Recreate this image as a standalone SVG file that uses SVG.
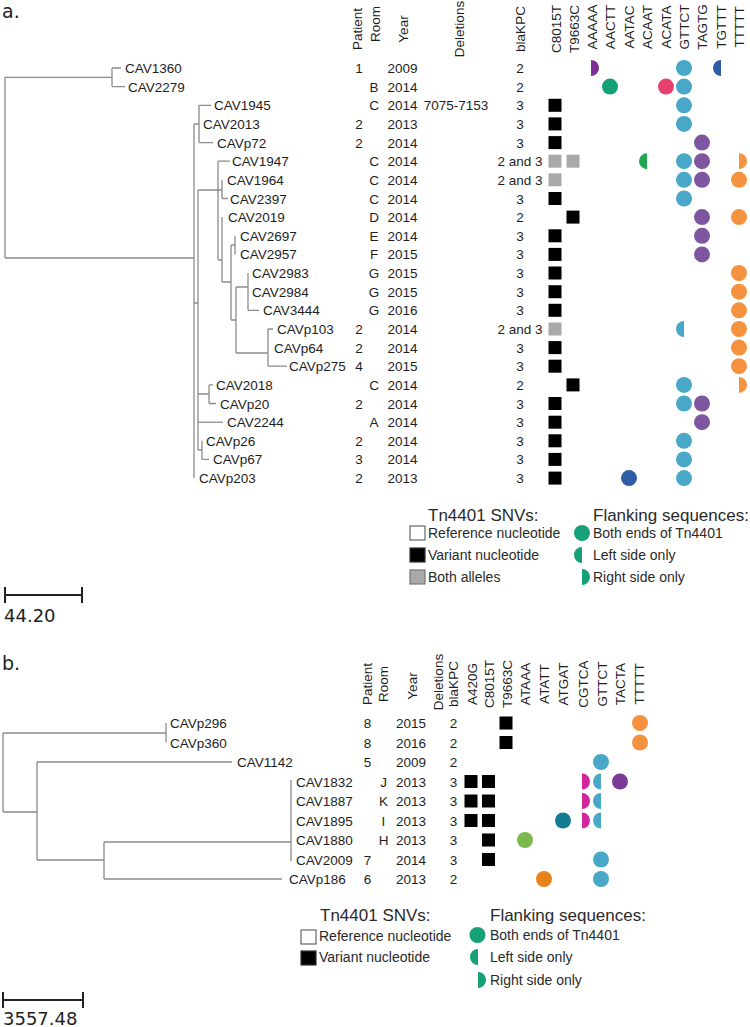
<svg xmlns="http://www.w3.org/2000/svg" width="750" height="1027" viewBox="0 0 750 1027">
<style>
text{font-family:"Liberation Sans",Arial,sans-serif;font-size:13.5px;fill:#1e1e1e}
.m{text-anchor:middle}
.hd{text-anchor:middle}
.tree{fill:none;stroke:#8c8c8c;stroke-width:1.3}
.lg{font-size:14px;fill:#2a2a2a}
.lh{font-size:17px;fill:#2a2a2a}
.sc{font-family:"DejaVu Sans",sans-serif;font-size:18px;fill:#222}
.pl{font-family:"DejaVu Sans",sans-serif;font-size:19px;fill:#222}
.bar{fill:none;stroke:#222;stroke-width:2}
.bk{fill:#000}
.gy{fill:#a9a9a9}
.gt{fill:#49a8c7}
.tg{fill:#7d569f}
.tt{fill:#f5923f}
.pu{fill:#7b2f95}
.bl{fill:#2e5da6}
.gr{fill:#15a077}
.pk{fill:#e8416e}
.lg2{fill:#20a84f}
.mg{fill:#d4269c}
.tc{fill:#7a3a96}
.te{fill:#117d8e}
.lgn{fill:#7cb850}
.or{fill:#e8821b}
</style>
<defs>
<rect id="sq" x="-6.5" y="-6.5" width="13" height="13"/>
<circle id="fc" r="8"/>
<path id="lh" d="M0,-8 A8,8 0 0 0 0,8 Z"/>
<path id="rh" d="M0,-8 A8,8 0 0 1 0,8 Z"/>
</defs>

<text class="pl" x="2" y="18">a.</text>

<g id="headers-a">
<text class="hd" transform="translate(362,29) rotate(-90)">Patient</text>
<text class="hd" transform="translate(380,24) rotate(-90)">Room</text>
<text class="hd" transform="translate(408,29) rotate(-90)">Year</text>
<text class="hd" transform="translate(464,29) rotate(-90)">Deletions</text>
<text class="hd" transform="translate(525,29) rotate(-90)">blaKPC</text>
<text class="hd" transform="translate(561,29) rotate(-90)">C8015T</text>
<text class="hd" transform="translate(579,29) rotate(-90)">T9663C</text>
<text class="hd" transform="translate(597,27) rotate(-90)">AAAAA</text>
<text class="hd" transform="translate(615,27) rotate(-90)">AACTT</text>
<text class="hd" transform="translate(634,27) rotate(-90)">AATAC</text>
<text class="hd" transform="translate(652,27) rotate(-90)">ACAAT</text>
<text class="hd" transform="translate(671,27) rotate(-90)">ACATA</text>
<text class="hd" transform="translate(689,27) rotate(-90)">GTTCT</text>
<text class="hd" transform="translate(707,27) rotate(-90)">TAGTG</text>
<text class="hd" transform="translate(726,27) rotate(-90)">TGTTT</text>
<text class="hd" transform="translate(744,27) rotate(-90)">TTTTT</text>
</g>

<g id="tree-a" class="tree">
<path d="M5,77.3V258M5,77.3H112M5,258H194"/>
<path d="M112,68V86.6M112,68H121M112,86.6H125"/>
<path d="M194,124V478.1M194,124H199M199,105.3V142.6M199,105.3H211M199,142.6H213"/>
<path d="M198,190V450M194,303H198"/>
<path d="M218,161.2V260M218,161.2H230M198,190H222M222,179.8V198.5M222,198.5H228"/>
<path d="M218,260H222M222,217.1V282M222,282H231M231,245V320M231,245H235M235,235.8V254.4M231,320H236"/>
<path d="M236,287V353M236,287H248M248,273V310.3M248,310.3H259"/>
<path d="M236,353H268M268,329V366.2M268,329H273M268,366.2H287"/>
<path d="M198,394H209M209,384.9V403.5M209,384.9H213M209,403.5H216"/>
<path d="M198,422.2H223"/>
<path d="M198,450H202M202,440.8V459.4M202,459.4H209"/>
</g>

<g id="a-CAV1360"><text x="125" y="73">CAV1360</text><text class="m" x="359" y="73">1</text><text class="m" x="402.5" y="73">2009</text><text class="m" x="520" y="73">2</text><use href="#rh" x="591" y="68" class="pu"/><use href="#fc" x="684" y="68" class="gt"/><use href="#lh" x="721" y="68" class="bl"/></g>
<g id="a-CAV2279"><text x="128" y="91.6">CAV2279</text><text class="m" x="374" y="91.6">B</text><text class="m" x="402.5" y="91.6">2014</text><text class="m" x="520" y="91.6">2</text><use href="#fc" x="610" y="86.6" class="gr"/><use href="#fc" x="666" y="86.6" class="pk"/><use href="#fc" x="684" y="86.6" class="gt"/></g>
<g id="a-CAV1945"><text x="214" y="110.3">CAV1945</text><text class="m" x="374" y="110.3">C</text><text class="m" x="402.5" y="110.3">2014</text><text class="m" x="456" y="110.3">7075-7153</text><text class="m" x="520" y="110.3">3</text><use href="#sq" x="555" y="105.3" class="bk"/><use href="#fc" x="684" y="105.3" class="gt"/></g>
<g id="a-CAV2013"><text x="203" y="128.9">CAV2013</text><text class="m" x="359" y="128.9">2</text><text class="m" x="402.5" y="128.9">2013</text><text class="m" x="520" y="128.9">3</text><use href="#sq" x="555" y="123.9" class="bk"/><use href="#fc" x="684" y="123.9" class="gt"/></g>
<g id="a-CAVp72"><text x="217" y="147.6">CAVp72</text><text class="m" x="359" y="147.6">2</text><text class="m" x="402.5" y="147.6">2014</text><text class="m" x="520" y="147.6">3</text><use href="#sq" x="555" y="142.6" class="bk"/><use href="#fc" x="702" y="142.6" class="tg"/></g>
<g id="a-CAV1947"><text x="232" y="166.2">CAV1947</text><text class="m" x="374" y="166.2">C</text><text class="m" x="402.5" y="166.2">2014</text><text class="m" x="520" y="166.2">2 and 3</text><use href="#sq" x="555" y="161.2" class="gy"/><use href="#sq" x="573" y="161.2" class="gy"/><use href="#lh" x="647" y="161.2" class="lg2"/><use href="#fc" x="684" y="161.2" class="gt"/><use href="#fc" x="702" y="161.2" class="tg"/><use href="#rh" x="739" y="161.2" class="tt"/></g>
<g id="a-CAV1964"><text x="227" y="184.8">CAV1964</text><text class="m" x="374" y="184.8">C</text><text class="m" x="402.5" y="184.8">2014</text><text class="m" x="520" y="184.8">2 and 3</text><use href="#sq" x="555" y="179.8" class="gy"/><use href="#fc" x="684" y="179.8" class="gt"/><use href="#fc" x="702" y="179.8" class="tg"/><use href="#fc" x="739" y="179.8" class="tt"/></g>
<g id="a-CAV2397"><text x="230" y="203.5">CAV2397</text><text class="m" x="374" y="203.5">C</text><text class="m" x="402.5" y="203.5">2014</text><text class="m" x="520" y="203.5">3</text><use href="#sq" x="555" y="198.5" class="bk"/><use href="#fc" x="684" y="198.5" class="gt"/></g>
<g id="a-CAV2019"><text x="228" y="222.1">CAV2019</text><text class="m" x="374" y="222.1">D</text><text class="m" x="402.5" y="222.1">2014</text><text class="m" x="520" y="222.1">2</text><use href="#sq" x="573" y="217.1" class="bk"/><use href="#fc" x="702" y="217.1" class="tg"/><use href="#fc" x="739" y="217.1" class="tt"/></g>
<g id="a-CAV2697"><text x="240" y="240.8">CAV2697</text><text class="m" x="374" y="240.8">E</text><text class="m" x="402.5" y="240.8">2014</text><text class="m" x="520" y="240.8">3</text><use href="#sq" x="555" y="235.8" class="bk"/><use href="#fc" x="702" y="235.8" class="tg"/></g>
<g id="a-CAV2957"><text x="240" y="259.4">CAV2957</text><text class="m" x="374" y="259.4">F</text><text class="m" x="402.5" y="259.4">2015</text><text class="m" x="520" y="259.4">3</text><use href="#sq" x="555" y="254.4" class="bk"/><use href="#fc" x="702" y="254.4" class="tg"/></g>
<g id="a-CAV2983"><text x="252" y="278">CAV2983</text><text class="m" x="374" y="278">G</text><text class="m" x="402.5" y="278">2015</text><text class="m" x="520" y="278">3</text><use href="#sq" x="555" y="273" class="bk"/><use href="#fc" x="739" y="273" class="tt"/></g>
<g id="a-CAV2984"><text x="252" y="296.7">CAV2984</text><text class="m" x="374" y="296.7">G</text><text class="m" x="402.5" y="296.7">2015</text><text class="m" x="520" y="296.7">3</text><use href="#sq" x="555" y="291.7" class="bk"/><use href="#fc" x="739" y="291.7" class="tt"/></g>
<g id="a-CAV3444"><text x="263" y="315.3">CAV3444</text><text class="m" x="374" y="315.3">G</text><text class="m" x="402.5" y="315.3">2016</text><text class="m" x="520" y="315.3">3</text><use href="#sq" x="555" y="310.3" class="bk"/><use href="#fc" x="739" y="310.3" class="tt"/></g>
<g id="a-CAVp103"><text x="277" y="334">CAVp103</text><text class="m" x="359" y="334">2</text><text class="m" x="402.5" y="334">2014</text><text class="m" x="520" y="334">2 and 3</text><use href="#sq" x="555" y="329" class="gy"/><use href="#lh" x="684" y="329" class="gt"/><use href="#fc" x="739" y="329" class="tt"/></g>
<g id="a-CAVp64"><text x="274" y="352.6">CAVp64</text><text class="m" x="359" y="352.6">2</text><text class="m" x="402.5" y="352.6">2014</text><text class="m" x="520" y="352.6">3</text><use href="#sq" x="555" y="347.6" class="bk"/><use href="#fc" x="739" y="347.6" class="tt"/></g>
<g id="a-CAVp275"><text x="289" y="371.2">CAVp275</text><text class="m" x="359" y="371.2">4</text><text class="m" x="402.5" y="371.2">2015</text><text class="m" x="520" y="371.2">3</text><use href="#sq" x="555" y="366.2" class="bk"/><use href="#fc" x="739" y="366.2" class="tt"/></g>
<g id="a-CAV2018"><text x="216" y="389.9">CAV2018</text><text class="m" x="374" y="389.9">C</text><text class="m" x="402.5" y="389.9">2014</text><text class="m" x="520" y="389.9">2</text><use href="#sq" x="573" y="384.9" class="bk"/><use href="#fc" x="684" y="384.9" class="gt"/><use href="#rh" x="739" y="384.9" class="tt"/></g>
<g id="a-CAVp20"><text x="220" y="408.5">CAVp20</text><text class="m" x="359" y="408.5">2</text><text class="m" x="402.5" y="408.5">2014</text><text class="m" x="520" y="408.5">3</text><use href="#sq" x="555" y="403.5" class="bk"/><use href="#fc" x="684" y="403.5" class="gt"/><use href="#fc" x="702" y="403.5" class="tg"/></g>
<g id="a-CAV2244"><text x="227" y="427.2">CAV2244</text><text class="m" x="374" y="427.2">A</text><text class="m" x="402.5" y="427.2">2014</text><text class="m" x="520" y="427.2">3</text><use href="#sq" x="555" y="422.2" class="bk"/><use href="#fc" x="702" y="422.2" class="tg"/></g>
<g id="a-CAVp26"><text x="206" y="445.8">CAVp26</text><text class="m" x="359" y="445.8">2</text><text class="m" x="402.5" y="445.8">2014</text><text class="m" x="520" y="445.8">3</text><use href="#sq" x="555" y="440.8" class="bk"/><use href="#fc" x="684" y="440.8" class="gt"/></g>
<g id="a-CAVp67"><text x="213" y="464.4">CAVp67</text><text class="m" x="359" y="464.4">3</text><text class="m" x="402.5" y="464.4">2014</text><text class="m" x="520" y="464.4">3</text><use href="#sq" x="555" y="459.4" class="bk"/><use href="#fc" x="684" y="459.4" class="gt"/></g>
<g id="a-CAVp203"><text x="199" y="483.1">CAVp203</text><text class="m" x="359" y="483.1">2</text><text class="m" x="402.5" y="483.1">2013</text><text class="m" x="520" y="483.1">3</text><use href="#sq" x="555" y="478.1" class="bk"/><use href="#fc" x="629" y="478.1" class="bl"/><use href="#fc" x="684" y="478.1" class="gt"/></g>

<g id="legend-a">
<text class="lh" x="428" y="521">Tn4401 SNVs:</text>
<rect x="410" y="526" width="15" height="14" fill="#fff" stroke="#666" stroke-width="1.2"/>
<text class="lg" x="428" y="538">Reference nucleotide</text>
<rect x="410" y="548" width="15" height="14" fill="#000" stroke="#333" stroke-width="1.2"/>
<text class="lg" x="428" y="560">Variant nucleotide</text>
<rect x="410" y="570" width="15" height="14" fill="#a9a9a9" stroke="#777" stroke-width="1.2"/>
<text class="lg" x="428" y="582">Both alleles</text>
<text class="lh" x="593" y="521">Flanking sequences:</text>
<use href="#fc" x="582" y="533" class="gr"/>
<text class="lg" x="593" y="538">Both ends of Tn4401</text>
<use href="#lh" x="582" y="555" class="gr"/>
<text class="lg" x="593" y="560">Left side only</text>
<use href="#rh" x="582" y="577" class="gr"/>
<text class="lg" x="593" y="582">Right side only</text>
</g>

<g id="scale-a">
<path class="bar" d="M5,595H82M5,587V603M82,587V603"/>
<text class="sc" x="4" y="622">44.20</text>
</g>

<text class="pl" x="2" y="670">b.</text>

<g id="headers-b">
<text class="hd" transform="translate(372,684) rotate(-90)">Patient</text>
<text class="hd" transform="translate(388,684) rotate(-90)">Room</text>
<text class="hd" transform="translate(417,686) rotate(-90)">Year</text>
<text class="hd" transform="translate(443,682) rotate(-90)">Deletions</text>
<text class="hd" transform="translate(458,684) rotate(-90)">blaKPC</text>
<text class="hd" transform="translate(477,684) rotate(-90)">A420G</text>
<text class="hd" transform="translate(494,684) rotate(-90)">C8015T</text>
<text class="hd" transform="translate(512,684) rotate(-90)">T9663C</text>
<text class="hd" transform="translate(530,684) rotate(-90)">ATAAA</text>
<text class="hd" transform="translate(549,684) rotate(-90)">ATATT</text>
<text class="hd" transform="translate(568,684) rotate(-90)">ATGAT</text>
<text class="hd" transform="translate(588,684) rotate(-90)">CGTCA</text>
<text class="hd" transform="translate(607,684) rotate(-90)">GTTCT</text>
<text class="hd" transform="translate(625,684) rotate(-90)">TACTA</text>
<text class="hd" transform="translate(644,684) rotate(-90)">TTTTT</text>
</g>

<g id="tree-b" class="tree">
<path d="M3,733V812M3,733H166M166,723V742.5M3,812H37M37,762V860"/>
<path d="M37,762H232M37,860H104M104,842V879M104,879H282M104,842H291M291,780V861"/>
</g>

<g id="b-CAVp296"><text x="170" y="728">CAVp296</text><text class="m" x="367.5" y="728">8</text><text class="m" x="411" y="728">2015</text><text class="m" x="453.5" y="728">2</text><use href="#sq" x="506" y="723" class="bk"/><use href="#fc" x="640" y="723" class="tt"/></g>
<g id="b-CAVp360"><text x="170" y="747.5">CAVp360</text><text class="m" x="367.5" y="747.5">8</text><text class="m" x="411" y="747.5">2016</text><text class="m" x="453.5" y="747.5">2</text><use href="#sq" x="506" y="742.5" class="bk"/><use href="#fc" x="640" y="742.5" class="tt"/></g>
<g id="b-CAV1142"><text x="237" y="767">CAV1142</text><text class="m" x="367.5" y="767">5</text><text class="m" x="411" y="767">2009</text><text class="m" x="453.5" y="767">2</text><use href="#fc" x="601" y="762" class="gt"/></g>
<g id="b-CAV1832"><text x="296" y="786.5">CAV1832</text><text class="m" x="383.5" y="786.5">J</text><text class="m" x="411" y="786.5">2013</text><text class="m" x="453.5" y="786.5">3</text><use href="#sq" x="471" y="781.5" class="bk"/><use href="#sq" x="488.5" y="781.5" class="bk"/><use href="#rh" x="582" y="781.5" class="mg"/><use href="#lh" x="601" y="781.5" class="gt"/><use href="#fc" x="620" y="781.5" class="tc"/></g>
<g id="b-CAV1887"><text x="296" y="806">CAV1887</text><text class="m" x="383.5" y="806">K</text><text class="m" x="411" y="806">2013</text><text class="m" x="453.5" y="806">3</text><use href="#sq" x="471" y="801" class="bk"/><use href="#sq" x="488.5" y="801" class="bk"/><use href="#rh" x="582" y="801" class="mg"/><use href="#lh" x="601" y="801" class="gt"/></g>
<g id="b-CAV1895"><text x="296" y="825.5">CAV1895</text><text class="m" x="383.5" y="825.5">I</text><text class="m" x="411" y="825.5">2013</text><text class="m" x="453.5" y="825.5">3</text><use href="#sq" x="471" y="820.5" class="bk"/><use href="#sq" x="488.5" y="820.5" class="bk"/><use href="#fc" x="563" y="820.5" class="te"/><use href="#rh" x="582" y="820.5" class="mg"/><use href="#lh" x="601" y="820.5" class="gt"/></g>
<g id="b-CAV1880"><text x="296" y="845">CAV1880</text><text class="m" x="383.5" y="845">H</text><text class="m" x="411" y="845">2013</text><text class="m" x="453.5" y="845">3</text><use href="#sq" x="488.5" y="840" class="bk"/><use href="#fc" x="525" y="840" class="lgn"/></g>
<g id="b-CAV2009"><text x="296" y="864.5">CAV2009</text><text class="m" x="367.5" y="864.5">7</text><text class="m" x="411" y="864.5">2014</text><text class="m" x="453.5" y="864.5">3</text><use href="#sq" x="488.5" y="859.5" class="bk"/><use href="#fc" x="601" y="859.5" class="gt"/></g>
<g id="b-CAVp186"><text x="289" y="884">CAVp186</text><text class="m" x="367.5" y="884">6</text><text class="m" x="411" y="884">2013</text><text class="m" x="453.5" y="884">2</text><use href="#fc" x="544" y="879" class="or"/><use href="#fc" x="601" y="879" class="gt"/></g>

<g id="legend-b">
<text class="lh" x="320" y="921">Tn4401 SNVs:</text>
<rect x="301" y="930" width="15" height="14" fill="#fff" stroke="#666" stroke-width="1.2"/>
<text class="lg" x="319" y="941">Reference nucleotide</text>
<rect x="301" y="951" width="15" height="14" fill="#000" stroke="#333" stroke-width="1.2"/>
<text class="lg" x="319" y="962">Variant nucleotide</text>
<text class="lh" x="490" y="921">Flanking sequences:</text>
<use href="#fc" x="477.5" y="935" class="gr"/>
<text class="lg" x="490" y="940">Both ends of Tn4401</text>
<use href="#lh" x="478" y="957" class="gr"/>
<text class="lg" x="490" y="962">Left side only</text>
<use href="#rh" x="478" y="980" class="gr"/>
<text class="lg" x="490" y="985">Right side only</text>
</g>

<g id="scale-b">
<path class="bar" d="M3,1000H83M3,992V1008M83,992V1008"/>
<text class="sc" x="3" y="1025">3557.48</text>
</g>
</svg>
